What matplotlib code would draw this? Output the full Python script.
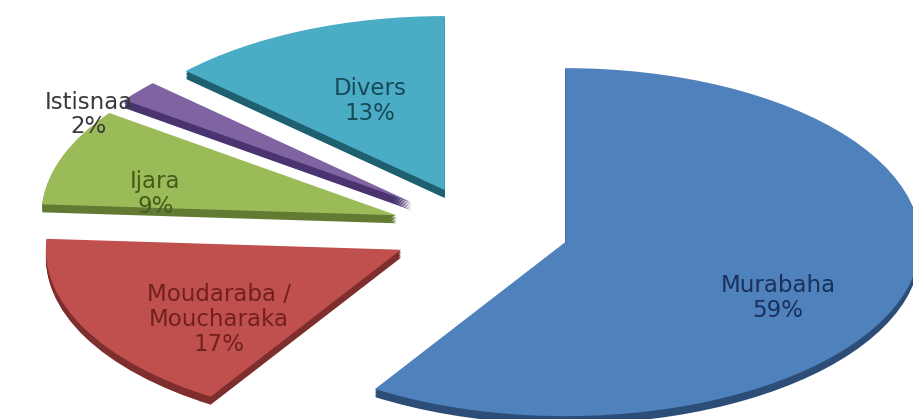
import numpy as np
import matplotlib
matplotlib.use('Agg')
import matplotlib.pyplot as plt

# slices, clockwise from 12 o'clock
names = ['Murabaha', 'Moudaraba /\nMoucharaka', 'Ijara', 'Istisnaa', 'Divers']
shares = [59, 17, 9, 2, 13]

top_colors = ['#4F81BD', '#C0504D', '#9BBB59', '#8064A2', '#4BACC6']
side_colors = ['#2C4D78', '#7E2E2C', '#627A32', '#4A3470', '#1E5F70']
text_colors = ['#1A3058', '#72201E', '#445C1A', '#3A3A3A', '#174A58']

# label placement (radius from slice tip, angle shift in degrees)
label_r = [0.68, 0.65, 0.69, 1.04, 0.553]
label_dth = [-12, 11, 9.5, 10.6, -1]

explode = [0.25] * len(shares)
depth = 0.046

fig = plt.figure(figsize=(9.13, 4.19), dpi=100)
ax = fig.add_axes([0, 0, 1, 1])

# side of the 3d pie: stacked darker copies shifted down
for k in np.linspace(depth, 0.005, 6):
    ax.pie(shares, explode=explode, startangle=90, counterclock=False,
           colors=side_colors, center=(0, -k),
           wedgeprops=dict(linewidth=0))

wedges = ax.pie(shares, explode=explode, startangle=90, counterclock=False,
                colors=top_colors, wedgeprops=dict(linewidth=0))[0]

for w, name, pct, col, r, dth in zip(wedges, names, shares, text_colors,
                                     label_r, label_dth):
    mid = np.deg2rad((w.theta1 + w.theta2) / 2 + dth)
    cx, cy = w.center
    ax.text(cx + r * np.cos(mid), cy + r * np.sin(mid), '%s\n%d%%' % (name, pct),
            ha='center', va='center', color=col, fontsize=16.5,
            family='DejaVu Sans', linespacing=1.1, zorder=10)

ax.set_aspect('auto')
ax.set_xlim(-480 / 355, (913 - 480) / 355)
ax.set_ylim(-(419 - 230) / 174, 230 / 174)
ax.axis('off')

fig.savefig('out.png', dpi=100, facecolor='white')
